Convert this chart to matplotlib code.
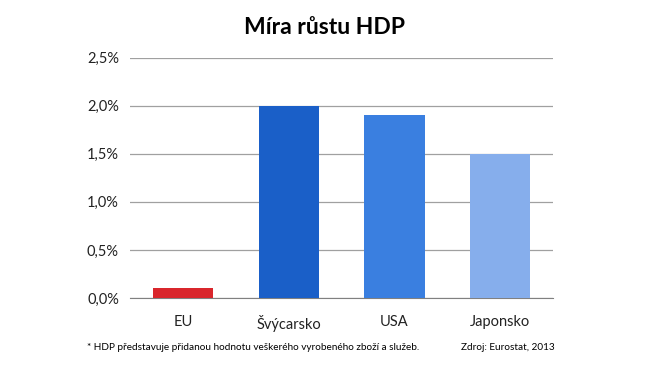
import matplotlib.pyplot as plt
from matplotlib.ticker import FuncFormatter

countries = ['EU', 'Švýcarsko', 'USA', 'Japonsko']
growth = [0.1, 2.0, 1.9, 1.5]
colors = ['#d9262c', '#1a5fc8', '#3a7fe0', '#86aeec']
yticks = [0.0, 0.5, 1.0, 1.5, 2.0, 2.5]

plt.rcParams['font.family'] = ['Lato', 'DejaVu Sans']

fig = plt.figure(figsize=(6.5, 3.66), dpi=100)
ax = fig.add_axes([0.2, 0.186, 0.651, 0.656])

ax.bar(range(len(countries)), growth, width=0.57, color=colors, zorder=3)
ax.set_xlim(-0.5, len(countries) - 0.5)
ax.set_ylim(0, 2.5)
ax.set_yticks(yticks)
ax.yaxis.set_major_formatter(FuncFormatter(lambda v, p: f"{v:.1f}%".replace('.', ',')))
ax.set_xticks(range(len(countries)))
ax.set_xticklabels(countries)
ax.grid(axis='y', color='#a0a0a0', linewidth=0.9, zorder=0)
for s in ['top', 'right', 'left']:
    ax.spines[s].set_visible(False)
ax.spines['bottom'].set_color('#808080')
ax.tick_params(length=0, labelsize=10.5, colors='#222222')
ax.tick_params(axis='y', pad=8)
ax.tick_params(axis='x', pad=12)

fig.text(0.5, 0.925, 'Míra růstu HDP', ha='center', va='center', fontsize=16.5, fontweight='bold')
fig.text(0.134, 0.05, '* HDP představuje přidanou hodnotu veškerého vyrobeného zboží a služeb.',
         fontsize=7.2, va='center')
fig.text(0.853, 0.05, 'Zdroj: Eurostat, 2013', fontsize=7.2, ha='right', va='center')

fig.savefig('out.png', dpi=100)
